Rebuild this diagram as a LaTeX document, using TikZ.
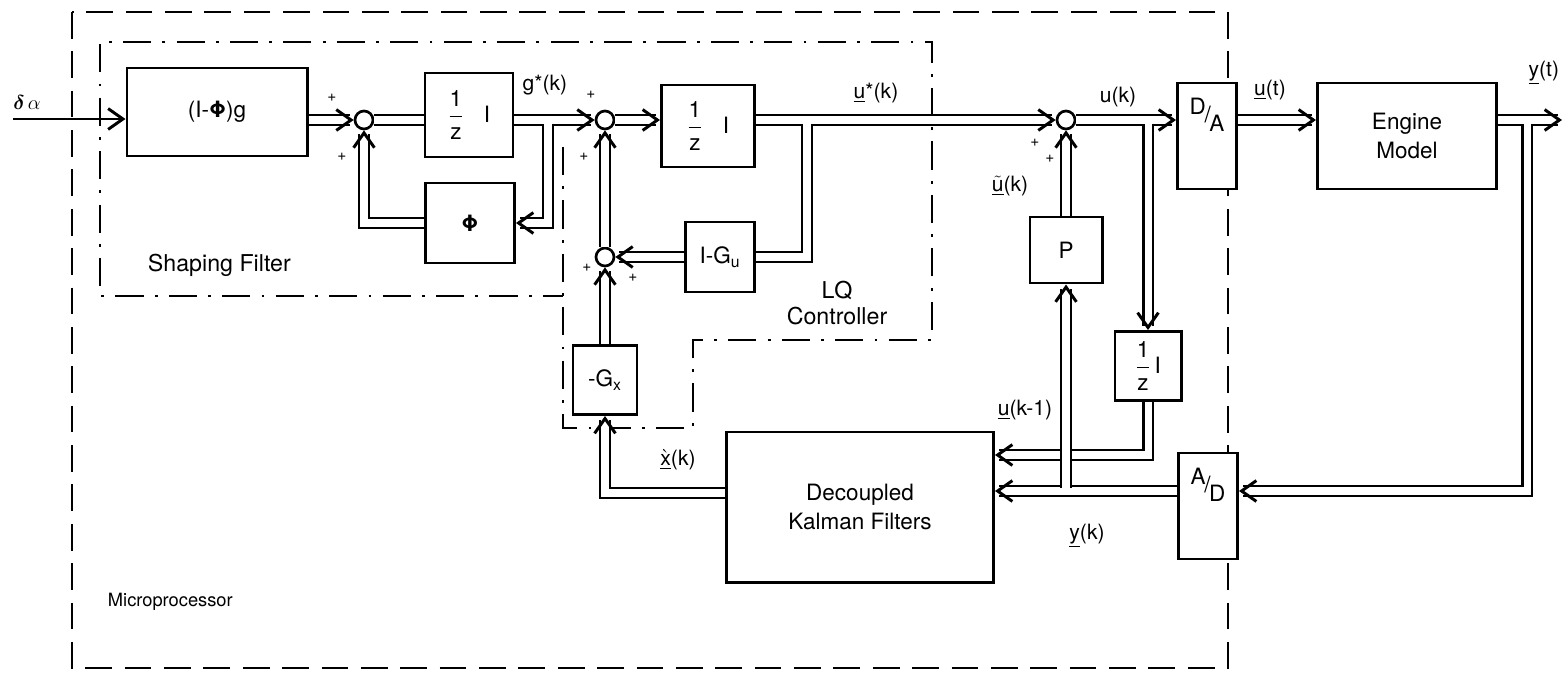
\documentclass[tikz,border=0pt]{standalone}
\usepackage{amsmath}
\usepackage{fontspec}
\setmainfont{TeX Gyre Heros}
\usepackage{tikz}
\usetikzlibrary{arrows.meta, calc}
\tikzset{
  >={Straight Barb[length=3.7mm, width=5.2mm]},
  blk/.style    ={draw, fill=white, line width=2.1pt, inner sep=1pt, align=center, font=\fontsize{16}{20}\selectfont},
  sumpt/.style  ={draw, circle, fill=white, minimum size=4.5mm, inner sep=0pt, line width=1.9pt},
  vec/.style    ={->, double, double distance=5pt, line width=2.1pt},  % vector signal
  sca/.style    ={->, line width=2.1pt},                               % scalar input
  mproc/.style  ={line width=2pt, dash pattern=on 19pt off 9pt},
  ctrl/.style   ={line width=1.8pt, dash pattern=on 20pt off 8pt on 2pt off 8pt},
  sglbl/.style  ={font=\fontsize{15}{17}\selectfont},
  pls/.style    ={font=\fontsize{11}{12}\selectfont},
  regn/.style   ={font=\fontsize{16.5}{19}\selectfont, align=center},
}
\newcommand{\zinv}{$\displaystyle\frac{\mbox{1}}{\mbox{z}}$}

\begin{document}
\begin{tikzpicture}[x=0.025cm, y=-0.025cm]
  \useasboundingbox (0,0) rectangle (1564,678);

  % region outlines
  \draw[mproc] (72,12) rectangle (1228,668);
  \draw[ctrl] (563,147) -- (563,428) -- (693,428) -- (693,340) -- (932,340)
    -- (932,42) -- (100,42) -- (100,296) -- (563,296);
  \node[regn, anchor=west] (shp) at (143,265) {Shaping Filter};
  \node[regn] (lq) at (837,303) {LQ\\Controller};
  \node[regn, anchor=west, font=\fontsize{13}{15}\selectfont] (mp) at (103,602) {Microprocessor};

  % blocks
  \node[blk, minimum width=4.5cm, minimum height=2.2cm] (filt) at (217,112) {(I-\textbf{Φ})g};
  \node[blk, minimum width=2.2cm, minimum height=2.1cm] (zinvA) at (469,115) {\zinv\hspace{5mm}I};
  \node[blk, minimum width=2.225cm, minimum height=2cm] (phib) at (470,223) {\textbf{Φ}};
  \node[blk, minimum width=2.325cm, minimum height=2.05cm] (zinvB) at (708,126) {\zinv\hspace{5mm}I};
  \node[blk, minimum width=1.725cm, minimum height=1.75cm] (gu) at (720,257) {I-G\textsubscript{u}};
  \node[blk, minimum width=1.6cm, minimum height=1.725cm] (gx) at (605,380) {-G\textsubscript{x}};
  \node[blk, minimum width=6.675cm, minimum height=3.75cm] (kal) at (860,507) {Decoupled\\Kalman Filters};
  \node[blk, minimum width=1.8cm, minimum height=1.65cm] (pb) at (1066,250) {P};
  \node[blk, minimum width=1.65cm, minimum height=1.725cm] (zinvC) at (1148,366) {\zinv\,I};
  \node[blk, minimum width=1.475cm, minimum height=2.65cm] (da) at (1207,136)
    {\raisebox{0.6em}[0pt][0pt]{\raisebox{0.35em}{D}\kern-1pt/\kern-1pt\raisebox{-0.4em}{A}}};
  \node[blk, minimum width=4.475cm, minimum height=2.65cm] (eng) at (1407,136) {Engine\\Model};
  \node[blk, minimum width=1.475cm, minimum height=2.65cm] (ad) at (1208,506)
    {\raisebox{0.6em}[0pt][0pt]{\raisebox{0.35em}{A}\kern-1pt/\kern-1pt\raisebox{-0.4em}{D}}};

  % summing points
  \node[sumpt] (s1) at (364,120) {};
  \node[sumpt] (s2) at (605,120) {};
  \node[sumpt] (s3) at (605,257) {};
  \node[sumpt] (s4) at (1066,120) {};

  % branch points (just off the inner edge of the line they leave) and free ends
  \coordinate (din)  at (13,119);
  \coordinate (jA)   at (548,123.5);
  \coordinate (jB)   at (807,123.5);
  \coordinate (jC)   at (1148,123.5);
  \coordinate (jD)   at (1066,487.5);
  \coordinate (jE)   at (1527,123.5);
  \coordinate (yout) at (1562,120);
  \coordinate (rowU) at (1148,455);
  \coordinate (rowX) at (700,493);
  \coordinate (rowY) at (1527,491);

  % connectors
  \draw[sca] (din) -- (din -| filt.west);
  \draw[vec] (filt.east |- s1) -- (s1);
  \draw[vec, -] (s1) -- (s1 -| zinvA.west);
  \draw[vec] (zinvA.east |- s2) -- (s2);
  \draw[vec] (jA) |- (phib.east);
  \draw[vec] (phib.west) -| (s1);
  \draw[vec] (s2) -- (s2 -| zinvB.west);
  \draw[vec] (zinvB.east |- s4) -- (s4);
  \draw[vec, -] (jB) |- (gu.east);
  \draw[vec] (gu) -- (s3);
  \draw[vec] (s3) -- (s2);
  \draw[vec] (gx) -- (s3);
  \draw[vec] (kal.west |- rowX) -| (gx);
  \draw[vec] (s4) -- (s4 -| da.west);
  \draw[vec] (jC) -- (zinvC);
  \draw[vec] (zinvC) |- (kal.east |- rowU);
  \draw[vec] (ad.west |- rowY) -- (kal.east |- rowY);
  \draw[vec] (jD) -- (pb);
  \draw[vec] (pb) -- (s4);
  \draw[vec] (da.east |- s4) -- (eng.west |- s4);
  \draw[vec] (eng.east |- yout) -- (yout);
  \draw[vec] (jE) |- (ad.east |- rowY);

  % signal labels
  \node[sglbl] (ldel) at (27,102) {$\boldsymbol{\delta}\,\alpha$};
  \node[sglbl] (lg)   at (545,85) {g*(k)};
  \node[sglbl] (lus)  at (876,93) {\underline{u}*(k)};
  \node[sglbl] (luk)  at (1118,97) {u(k)};
  \node[sglbl] (lut)  at (1010,186) {$\tilde{\underline{\mbox{u}}}$(k)};
  \node[sglbl] (lu)   at (1270,90) {\underline{u}(t)};
  \node[sglbl, anchor=east] (ly) at (1564,73) {\underline{y}(t)};
  \node[sglbl] (lx)   at (678,460) {$\grave{\underline{\mbox{x}}}$(k)};
  \node[sglbl] (lu1)  at (1025,410) {\underline{u}(k-1)};
  \node[sglbl] (lyk)  at (1087,536) {\underline{y}(k)};

  % signs at the summing points
  \node[pls] (p1a) at (332,98) {+};
  \node[pls] (p1b) at (342,157) {+};
  \node[pls] (p2a) at (591,95) {+};
  \node[pls] (p2b) at (584,157) {+};
  \node[pls] (p3a) at (587,268) {+};
  \node[pls] (p3b) at (633,278) {+};
  \node[pls] (p4a) at (1035,143) {+};
  \node[pls] (p4b) at (1050,159) {+};
\end{tikzpicture}
\end{document}
